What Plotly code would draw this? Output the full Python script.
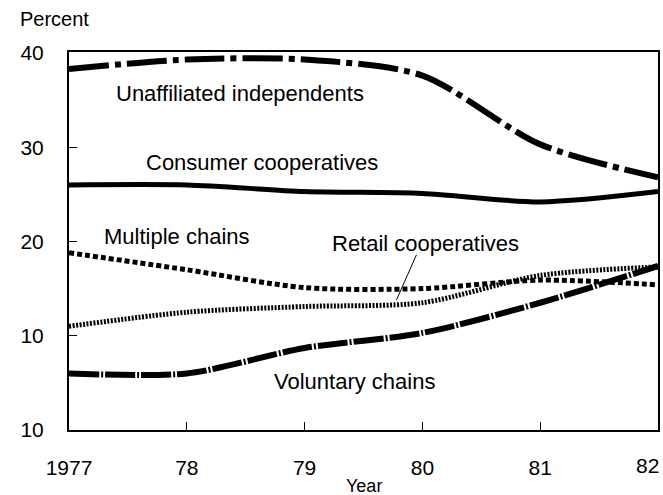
import plotly.graph_objects as go

years = [1977, 1978, 1979, 1980, 1981, 1982]
year_labels = ["1977", "78", "79", "80", "81", "82"]

unaffiliated = [38.3, 39.3, 39.3, 37.6, 30.3, 26.8]
consumer_coops = [26.0, 26.0, 25.3, 25.1, 24.2, 25.3]
multiple_chains = [18.8, 17.0, 15.1, 15.0, 15.9, 15.4]
retail_coops = [11.0, 12.5, 13.1, 13.5, 16.4, 17.3]
voluntary_chains = [6.0, 6.0, 8.7, 10.3, 13.5, 17.4]

y_ticks = [0, 10, 20, 30, 40]
y_tick_labels = ["10", "10", "20", "30", "40"]

FONT = "Liberation Sans, Arial, Helvetica, sans-serif"

fig = go.Figure()

series = [
    ("Unaffiliated independents", unaffiliated, "40px,6px,6px,6px", 6),
    ("Consumer cooperatives", consumer_coops, "solid", 5),
    ("Multiple chains", multiple_chains, "5px,3px", 5),
    ("Retail cooperatives", retail_coops, "2px,1.5px", 5),
    ("Voluntary chains", voluntary_chains, "30px,2px,2px,2px", 6),
]
for name, vals, dash, w in series:
    fig.add_trace(go.Scatter(
        x=years, y=vals, name=name, mode="lines",
        line=dict(color="black", width=w, dash=dash, shape="spline", smoothing=0.8),
        showlegend=False,
    ))

labels = [
    ("Unaffiliated independents", 1978.45, 35.7),
    ("Consumer cooperatives", 1978.64, 28.4),
    ("Multiple chains", 1977.92, 20.5),
    ("Retail cooperatives", 1980.03, 19.8),
    ("Voluntary chains", 1979.42, 5.1),
]
for text, x, y in labels:
    fig.add_annotation(x=x, y=y, text=text, showarrow=False,
                       font=dict(family=FONT, size=22, color="black"))

# leader line for Retail cooperatives
fig.add_shape(type="line", x0=1979.95, y0=18.6, x1=1979.78, y1=13.8,
              line=dict(color="black", width=1))

fig.add_annotation(xref="paper", yref="paper", x=-0.086, y=1.0, yshift=20,
                   xanchor="left", yanchor="bottom", text="Percent", showarrow=False,
                   font=dict(family=FONT, size=20, color="black"))
fig.add_annotation(xref="paper", yref="paper", x=0.5, y=0, yshift=-44,
                   xanchor="center", yanchor="top", text="Year", showarrow=False,
                   font=dict(family=FONT, size=18, color="black"))

# last x tick label sits flush with the right edge (would otherwise be clipped)
shown_labels = year_labels[:-1] + [""]
fig.add_annotation(x=years[-1], xref="x", yref="paper", y=0, yshift=-22,
                   xanchor="right", yanchor="top", xshift=3,
                   text=year_labels[-1], showarrow=False,
                   font=dict(family=FONT, size=21, color="black"))

fig.update_layout(
    width=663, height=495,
    margin=dict(l=69, r=3, t=52, b=65),
    paper_bgcolor="white", plot_bgcolor="white",
    font=dict(family=FONT, size=21, color="black"),
)
fig.update_xaxes(
    range=[1977, 1982], tickvals=years, ticktext=shown_labels,
    ticks="inside", ticklen=8, tickcolor="black", tickwidth=1,
    showline=True, linecolor="black", linewidth=2, mirror=True,
    showgrid=False, zeroline=False, ticklabelstandoff=18,
    tickfont=dict(family=FONT, size=21),
)
fig.update_yaxes(
    range=[0, 40.1], tickvals=y_ticks, ticktext=y_tick_labels,
    ticks="inside", ticklen=8, tickcolor="black", tickwidth=1,
    showline=True, linecolor="black", linewidth=2, mirror=True,
    showgrid=False, zeroline=False, ticklabelstandoff=19,
    tickfont=dict(family=FONT, size=21),
)

fig.write_html(
    "out.html",
    config={"displayModeBar": False},
    post_script="document.body.style.margin='0';document.body.style.overflow='hidden';",
)
